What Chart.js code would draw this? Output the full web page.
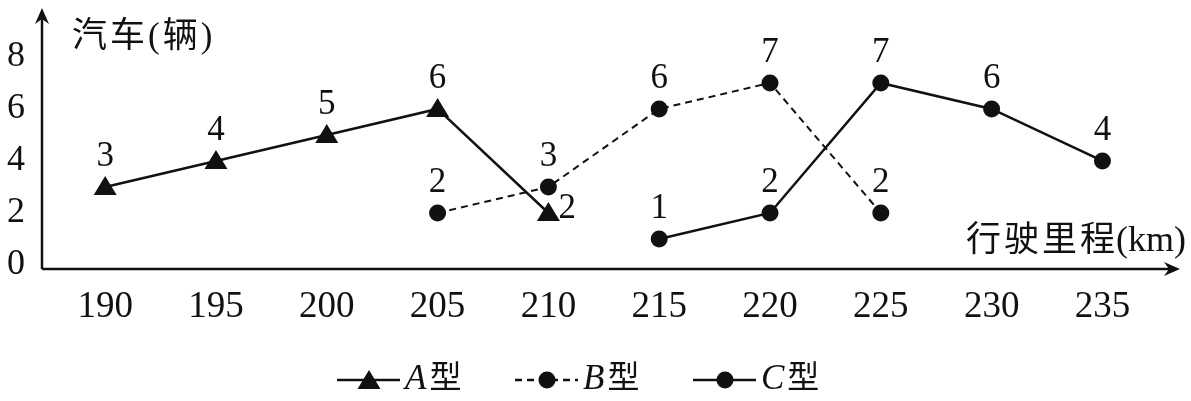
<!DOCTYPE html>
<html>
<head>
<meta charset="utf-8">
<script src="https://cdn.jsdelivr.net/npm/chart.js@4.4.1/dist/chart.umd.min.js"></script>
<style>
  body { margin: 0; background: #fff; }
</style>
</head>
<body>
<canvas id="mileageChart" width="1191" height="401"></canvas>
<script>
// chart data
const mileage = [190, 195, 200, 205, 210, 215, 220, 225, 230, 235];
const typeA = [3, 4, 5, 6, 2, null, null, null, null, null];
const typeB = [null, null, null, 2, 3, 6, 7, 2, null, null];
const typeC = [null, null, null, null, null, 1, 2, 7, 6, 4];
const yTicks = [0, 2, 4, 6, 8];
const seriesNames = ['A', 'B', 'C'];
const yTitle = '汽车(辆)';
const xTitle = '行驶里程(km)';

const serif = "'Liberation Serif', 'Noto Sans CJK SC', serif";
const ink = '#111';

function toPoints(values) {
  return mileage.map((m, i) => ({ x: m, y: values[i] }));
}

// draw a marker the same way in the plot and the legend
function drawMarker(ctx, style, x, y) {
  ctx.save();
  ctx.fillStyle = ink;
  ctx.beginPath();
  if (style === 'triangle') {
    ctx.moveTo(x, y - 11);
    ctx.lineTo(x + 11.5, y + 8);
    ctx.lineTo(x - 11.5, y + 8);
    ctx.closePath();
  } else {
    ctx.arc(x, y, 8.5, 0, Math.PI * 2);
  }
  ctx.fill();
  ctx.restore();
}

// axes with arrow heads, axis titles
const axesPlugin = {
  id: 'arrowAxes',
  afterDraw(chart) {
    const { ctx, chartArea } = chart;
    const left = chartArea.left, bottom = chartArea.bottom;
    ctx.save();
    ctx.strokeStyle = ink;
    ctx.fillStyle = ink;
    ctx.lineWidth = 2.5;
    ctx.beginPath();
    ctx.moveTo(left, bottom);
    ctx.lineTo(left, chartArea.top + 6);
    ctx.moveTo(left, bottom);
    ctx.lineTo(chartArea.right - 6, bottom);
    ctx.stroke();

    // y arrow
    const ty = chartArea.top;
    ctx.beginPath();
    ctx.moveTo(left, ty);
    ctx.lineTo(left + 7, ty + 16);
    ctx.lineTo(left, ty + 11);
    ctx.lineTo(left - 7, ty + 16);
    ctx.closePath();
    ctx.fill();

    // x arrow
    const tx = chartArea.right;
    ctx.beginPath();
    ctx.moveTo(tx, bottom);
    ctx.lineTo(tx - 16, bottom - 7);
    ctx.lineTo(tx - 11, bottom);
    ctx.lineTo(tx - 16, bottom + 7);
    ctx.closePath();
    ctx.fill();

    ctx.font = '35px ' + serif;
    ctx.textBaseline = 'middle';
    ctx.letterSpacing = '3px';
    ctx.textAlign = 'left';
    ctx.fillText(yTitle, 72, 38);

    // x title: spaced Chinese part, tight unit part
    const cut = xTitle.indexOf('(');
    const head = xTitle.slice(0, cut), unit = xTitle.slice(cut);
    ctx.letterSpacing = '0px';
    ctx.font = '36px ' + serif;
    const unitW = ctx.measureText(unit).width;
    ctx.textAlign = 'right';
    ctx.fillText(unit, 1186, 242);
    ctx.letterSpacing = '3px';
    ctx.font = '35px ' + serif;
    ctx.fillText(head, 1186 - unitW + 2, 242);
    ctx.restore();
  }
};

// value labels above each point
const valueLabels = {
  id: 'valueLabels',
  afterDatasetsDraw(chart) {
    const { ctx } = chart;
    ctx.save();
    ctx.font = '35px ' + serif;
    ctx.fillStyle = ink;
    chart.data.datasets.forEach((ds, di) => {
      const meta = chart.getDatasetMeta(di);
      meta.data.forEach((pt, i) => {
        const v = ds.data[i].y;
        if (v === null) return;
        ctx.textBaseline = 'middle';
        if (ds.labelRight && ds.labelRight.includes(i)) {
          ctx.textAlign = 'left';
          ctx.fillText(v, pt.x + 10, pt.y - 4);
        } else {
          ctx.textAlign = 'center';
          ctx.fillText(v, pt.x, pt.y - 30);
        }
      });
    });
    ctx.restore();
  }
};

// legend: line sample + marker + "X型"
const legendPlugin = {
  id: 'lineLegend',
  afterDraw(chart) {
    const { ctx } = chart;
    const y = 380;
    const starts = [337, 515, 693];
    ctx.save();
    chart.data.datasets.forEach((ds, i) => {
      const x0 = starts[i];
      ctx.strokeStyle = ink;
      ctx.lineWidth = 2.5;
      ctx.setLineDash(ds.borderDash || []);
      ctx.beginPath();
      ctx.moveTo(x0, y);
      ctx.lineTo(x0 + 63, y);
      ctx.stroke();
      ctx.setLineDash([]);
      drawMarker(ctx, ds.pointStyle, x0 + 32, y + (ds.pointStyle === 'triangle' ? 1 : 0));
      ctx.fillStyle = ink;
      ctx.textBaseline = 'middle';
      ctx.textAlign = 'left';
      ctx.font = 'italic 35px ' + serif;
      ctx.fillText(seriesNames[i], x0 + 68, y);
      const w = ctx.measureText(seriesNames[i]).width;
      ctx.font = '32px ' + serif;
      ctx.fillText('型', x0 + 71 + w, y);
    });
    ctx.restore();
  }
};

const seriesStyle = {
  borderColor: ink,
  borderWidth: 2.5,
  pointRadius: 0,
  pointHoverRadius: 0,
  fill: false,
  tension: 0
};

// custom marker drawing after the lines
const markerPlugin = {
  id: 'markers',
  afterDatasetsDraw(chart) {
    chart.data.datasets.forEach((ds, di) => {
      chart.getDatasetMeta(di).data.forEach((pt, i) => {
        if (ds.data[i].y === null) return;
        drawMarker(chart.ctx, ds.pointStyle, pt.x, pt.y);
      });
    });
  }
};

function noPadding(axis) {
  axis.paddingTop = 0;
  axis.paddingBottom = 0;
  axis.paddingLeft = 0;
  axis.paddingRight = 0;
}

const ctx = document.getElementById('mileageChart').getContext('2d');
const mileageChart = new Chart(ctx, {
  type: 'line',
  data: {
    datasets: [
      { label: 'A型', data: toPoints(typeA), pointStyle: 'triangle', labelRight: [4], ...seriesStyle },
      { label: 'B型', data: toPoints(typeB), pointStyle: 'circle', borderDash: [7, 5], ...seriesStyle, borderWidth: 2 },
      { label: 'C型', data: toPoints(typeC), pointStyle: 'circle', ...seriesStyle }
    ]
  },
  options: {
    responsive: false,
    animation: false,
    devicePixelRatio: 1,
    layout: { padding: { left: 0, top: 8, right: 11, bottom: 0 } },
    plugins: {
      legend: { display: false },
      tooltip: { enabled: false }
    },
    scales: {
      x: {
        type: 'linear',
        min: 187.15,
        max: 238.5,
        grid: { display: false, drawTicks: false },
        border: { display: false },
        afterBuildTicks: axis => { axis.ticks = mileage.map(v => ({ value: v })); },
        afterFit: axis => { axis.height = 132; noPadding(axis); },
        ticks: {
          color: ink,
          padding: 16,
          maxRotation: 0,
          autoSkip: false,
          font: { family: serif, size: 37 }
        }
      },
      y: {
        min: -0.154,
        max: 9.88,
        grid: { display: false, drawTicks: false },
        border: { display: false },
        afterBuildTicks: axis => { axis.ticks = yTicks.map(v => ({ value: v })); },
        afterFit: axis => { axis.width = 42; noPadding(axis); },
        ticks: {
          color: ink,
          padding: 17,
          font: { family: serif, size: 36 }
        }
      }
    }
  },
  plugins: [axesPlugin, markerPlugin, valueLabels, legendPlugin]
});
</script>
</body>
</html>
